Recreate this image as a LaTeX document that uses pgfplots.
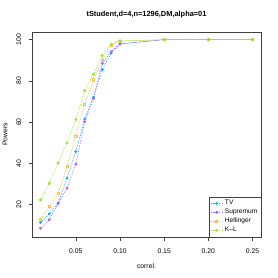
\documentclass[border=0pt]{standalone}
\usepackage{fontspec}
\setmainfont{Liberation Sans}
\usepackage{graphicx}
\usepackage{pgfplots}
\pgfplotsset{compat=1.18}
\definecolor{cTV}{RGB}{0,176,255}
\definecolor{cSup}{RGB}{160,96,255}
\definecolor{cHel}{RGB}{255,190,60}
\definecolor{cKL}{RGB}{150,228,40}
\begin{document}
\begin{tikzpicture}[x=1bp,y=1bp]
\path[use as bounding box] (0,0) rectangle (278,278);
\begin{axis}[
  at={(32bp,41bp)}, anchor=south west,
  scale only axis, width=229bp, height=205bp,
  xmin=0.0004, xmax=0.2596, ymin=4.3, ymax=103.7,
  axis line style={black!75, line width=0.6pt},
  xtick={0.05,0.10,0.15,0.20,0.25},
  ytick={20,40,60,80,100},
  tick align=outside, tick pos=left, major tick length=3.5bp,
  tick style={black!75, line width=0.5pt},
  /pgf/number format/assume math mode=true,
  xticklabel={\pgfmathprintnumber[fixed,fixed zerofill,precision=2]{\tick}},
  yticklabel={\rotatebox{90}{\pgfmathprintnumber{\tick}}},
  yticklabel style={anchor=east, inner sep=0pt, xshift=-7.2bp},
  xticklabel style={anchor=north, inner sep=0pt, yshift=-8.5bp},
  ticklabel style={font=\fontsize{6.8bp}{8bp}\selectfont},
  label style={font=\fontsize{6.8bp}{8bp}\selectfont},
  title={\bfseries tStudent,d=4,n=1296,DM,alpha=01},
  title style={font=\fontsize{7.4bp}{9bp}\selectfont, at={(axis description cs:0.5,1)}, anchor=base, yshift=10bp},
  xlabel={correl.},
  xlabel style={at={(axis description cs:0.5,0)}, anchor=base, yshift=-31bp},
  ylabel={Powers},
  ylabel style={at={(axis description cs:-0.107,0.5)}, anchor=base},
  legend style={at={(rel axis cs:1,0)}, anchor=south east, draw=black!75, line width=0.5pt,
    font=\fontsize{6.6bp}{8bp}\selectfont, inner sep=1.5bp, row sep=-1.2bp},
  legend cell align=left,
  legend image code/.code={\draw[mark repeat=2,mark phase=2] plot coordinates {(0bp,0bp) (6bp,0bp) (12bp,0bp)};},
  every axis plot/.append style={line width=0.5pt, dash pattern=on 1.5bp off 1.2bp},
  mark size=1.1bp,
]
\addplot[cTV, mark=*, mark options={solid}] coordinates {
(0.01,11.3)(0.02,15.5)(0.03,20.7)(0.04,32.8)(0.05,45.7)(0.06,61.5)(0.07,72.1)(0.08,85.5)(0.09,93.5)(0.10,97.9)(0.15,100)(0.20,100)(0.25,100)};
\addlegendentry{TV}
\addplot[cSup, mark=o, mark options={solid, line width=0.7pt}] coordinates {
(0.01,8.5)(0.02,12.7)(0.03,20.7)(0.04,28.0)(0.05,39.6)(0.06,60.3)(0.07,71.6)(0.08,88.5)(0.09,94.2)(0.10,97.9)(0.15,100)(0.20,100)(0.25,100)};
\addlegendentry{Supremum}
\addplot[cHel, mark=square, mark options={solid, line width=0.7pt}] coordinates {
(0.01,12.9)(0.02,19.0)(0.03,25.5)(0.04,38.4)(0.05,53.2)(0.06,68.8)(0.07,80.5)(0.08,89.8)(0.09,97.4)(0.10,99.2)(0.15,100)(0.20,100)(0.25,100)};
\addlegendentry{Hellinger}
\addplot[cKL, mark=o, mark options={solid, line width=0.8pt}] coordinates {
(0.01,22.3)(0.02,30.4)(0.03,40.2)(0.04,49.9)(0.05,61.2)(0.06,75.3)(0.07,83.2)(0.08,92.3)(0.09,97.7)(0.10,99.4)(0.15,100)(0.20,100)(0.25,100)};
\addlegendentry{K--L}
\end{axis}
\end{tikzpicture}
\end{document}
